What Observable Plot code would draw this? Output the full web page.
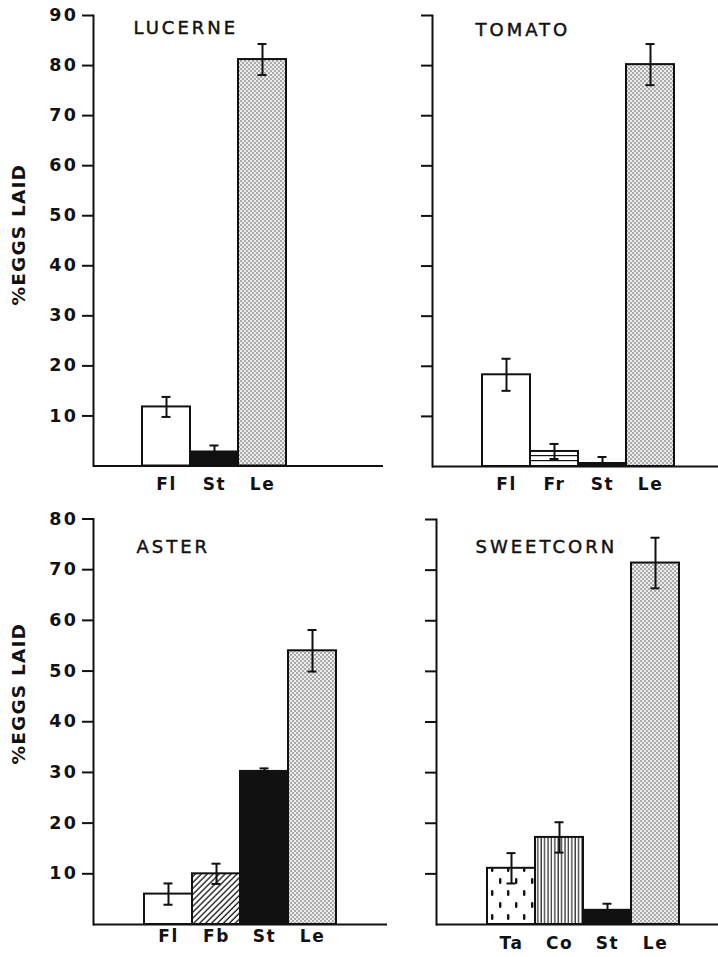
<!DOCTYPE html>
<html>
<head>
<meta charset="utf-8">
<script src="https://cdn.jsdelivr.net/npm/d3@7"></script>
<script src="https://cdn.jsdelivr.net/npm/@observablehq/plot@0.6"></script>
<style>
  html, body { margin: 0; padding: 0; background: #fff; }
  #figure { position: relative; width: 718px; height: 957px; overflow: hidden; background: #fff; }
  #figure .panel { position: absolute; }
  #figure .panel svg { display: block; overflow: visible; }
</style>
</head>
<body>
<!-- fill patterns shared by all four panels -->
<svg width="0" height="0" style="position:absolute">
  <defs>
    <pattern id="stipple" patternUnits="userSpaceOnUse" width="4" height="4">
      <rect width="4" height="4" fill="#ececec"/>
      <circle cx="1" cy="1" r="0.8" fill="#555"/>
      <circle cx="3" cy="3" r="0.8" fill="#555"/>
    </pattern>
    <pattern id="hlines" patternUnits="userSpaceOnUse" width="6" height="5">
      <rect width="6" height="5" fill="#fff"/>
      <line x1="0" x2="6" y1="0.5" y2="0.5" stroke="#111" stroke-width="1.4"/>
    </pattern>
    <pattern id="hatch" patternUnits="userSpaceOnUse" width="4.2" height="4.2" patternTransform="rotate(45)">
      <rect width="4.2" height="4.2" fill="#fff"/>
      <line x1="1" x2="1" y1="0" y2="4.2" stroke="#111" stroke-width="1.3"/>
    </pattern>
    <pattern id="vlines" patternUnits="userSpaceOnUse" width="3.4" height="4">
      <rect width="3.4" height="4" fill="#fff"/>
      <line x1="1" x2="1" y1="0" y2="4" stroke="#111" stroke-width="1.1"/>
    </pattern>
    <pattern id="dashes" patternUnits="userSpaceOnUse" width="16" height="24">
      <rect width="16" height="24" fill="#fff"/>
      <rect x="3" y="2" width="2.4" height="6" rx="1.2" fill="#111"/>
      <rect x="11" y="14" width="2.4" height="6" rx="1.2" fill="#111"/>
    </pattern>
  </defs>
</svg>

<div id="figure"></div>

<script>
// Percentage of eggs laid on each plant part, mean and standard error.
const lucerneParts = ["Fl", "St", "Le"];
const lucerneMeans = [11.8, 2.8, 81.2];
const lucerneErrors = [2.0, 1.3, 3.1];

const tomatoParts = ["Fl", "Fr", "St", "Le"];
const tomatoMeans = [18.3, 3.0, 0.6, 80.2];
const tomatoErrors = [3.2, 1.5, 1.3, 4.1];

const asterParts = ["Fl", "Fb", "St", "Le"];
const asterMeans = [6.0, 10.0, 30.2, 54.0];
const asterErrors = [2.1, 2.0, 0.6, 4.1];

const sweetcornParts = ["Ta", "Co", "St", "Le"];
const sweetcornMeans = [11.1, 17.2, 2.8, 71.4];
const sweetcornErrors = [3.0, 3.0, 1.3, 5.0];

const topTicks = [10, 20, 30, 40, 50, 60, 70, 80, 90];
const bottomTicks = [10, 20, 30, 40, 50, 60, 70, 80];
const yLabelText = "%EGGS LAID";

// How each plant part is shaded
const partFill = {
  Fl: "#ffffff",
  St: "#111111",
  Le: "url(#stipple)",
  Fr: "url(#hlines)",
  Fb: "url(#hatch)",
  Ta: "url(#dashes)",
  Co: "url(#vlines)"
};

const ink = "#111";
const font = "DejaVu Sans, Liberation Sans, sans-serif";

function panel(spec) {
  const rows = spec.parts.map((part, i) => ({part, mean: spec.means[i], err: spec.errors[i]}));
  const lowered = rows.filter(d => d.mean - d.err > 0.5);
  const capInset = 19.5;
  const chart = Plot.plot({
    width: spec.width,
    height: spec.height,
    marginLeft: spec.ml,
    marginRight: spec.mr,
    marginTop: spec.mt,
    marginBottom: spec.mb,
    style: {background: "transparent", fontFamily: font, color: ink, overflow: "visible"},
    x: {type: "band", domain: spec.parts, range: spec.xRange, padding: 0},
    y: {domain: [0, spec.yMax]},
    color: {type: "identity"},
    marks: [
      Plot.barY(rows, {x: "part", y: "mean", fill: d => partFill[d.part], stroke: ink, strokeWidth: 2}),
      Plot.ruleX(rows, {x: "part", y1: d => Math.max(0, d.mean - d.err), y2: d => d.mean + d.err, stroke: ink, strokeWidth: 2}),
      Plot.tickY(rows, {x: "part", y: d => d.mean + d.err, insetLeft: capInset, insetRight: capInset, stroke: ink, strokeWidth: 2}),
      Plot.tickY(lowered, {x: "part", y: d => d.mean - d.err, insetLeft: capInset, insetRight: capInset, stroke: ink, strokeWidth: 2}),
      Plot.ruleY([0], {stroke: ink, strokeWidth: 2}),
      Plot.frame({anchor: "left", stroke: ink, strokeWidth: 2}),
      Plot.axisY({
        ticks: spec.ticks, tickSize: 11, tickPadding: 4, stroke: ink, strokeWidth: 2,
        tickFormat: spec.tickLabels ? (d => String(d)) : (() => ""),
        fontSize: 17.5, fontWeight: "bold", fill: ink, label: null
      }),
      Plot.axisX({tickSize: 0, tickPadding: spec.xPad, fontSize: 17, fontWeight: "bold", fill: ink, label: null}),
      Plot.text([spec.title], {
        frameAnchor: "top-left", textAnchor: "start", lineAnchor: "middle",
        dx: spec.titleDx, dy: spec.titleDy, fontSize: 18, fill: ink, stroke: ink, strokeWidth: 0.45
      }),
      spec.yLabel ? Plot.text([yLabelText], {
        frameAnchor: "left", textAnchor: "middle", rotate: -90, lineAnchor: "middle",
        dx: -74, dy: spec.yLabelDy, fontSize: 18.5, fontWeight: "bold", fill: ink
      }) : null
    ]
  });
  const svg = d3.select(chart);
  svg.selectAll('g[aria-label="y-axis tick label"] text').style("letter-spacing", "2.5px");
  svg.selectAll('g[aria-label="x-axis tick label"] text').style("letter-spacing", "1.5px");
  svg.selectAll('g[aria-label="text"] text').style("letter-spacing", function() {
    return this.textContent === yLabelText ? "1.2px" : "3px";
  });
  const holder = document.createElement("div");
  holder.className = "panel";
  holder.style.left = spec.left + "px";
  holder.style.top = spec.top + "px";
  holder.style.width = spec.width + "px";
  holder.appendChild(chart);
  document.getElementById("figure").appendChild(holder);
}

panel({
  title: "LUCERNE", parts: lucerneParts, means: lucerneMeans, errors: lucerneErrors,
  left: 0, top: 0, width: 400, height: 500, ml: 93, mr: 17, mt: 15, mb: 34.5,
  xRange: [142, 286], yMax: 90, ticks: topTicks, tickLabels: true, xPad: 11.5,
  titleDx: 40, titleDy: 13, yLabel: true, yLabelDy: -6
});
panel({
  title: "TOMATO", parts: tomatoParts, means: tomatoMeans, errors: tomatoErrors,
  left: 360, top: 0, width: 358, height: 500, ml: 72, mr: 0, mt: 15, mb: 34,
  xRange: [121, 314], yMax: 90, ticks: topTicks, tickLabels: false, xPad: 11,
  titleDx: 43, titleDy: 15, yLabel: false
});
panel({
  title: "ASTER", parts: asterParts, means: asterMeans, errors: asterErrors,
  left: 0, top: 480, width: 400, height: 477, ml: 93, mr: 13, mt: 38.5, mb: 33,
  xRange: [144, 336], yMax: 80, ticks: bottomTicks, tickLabels: true, xPad: 5,
  titleDx: 43, titleDy: 28.5, yLabel: true, yLabelDy: -28
});
panel({
  title: "SWEETCORN", parts: sweetcornParts, means: sweetcornMeans, errors: sweetcornErrors,
  left: 360, top: 480, width: 358, height: 477, ml: 76, mr: 0, mt: 39, mb: 33,
  xRange: [126, 319], yMax: 80, ticks: bottomTicks, tickLabels: false, xPad: 12,
  titleDx: 39, titleDy: 28, yLabel: false
});
</script>
</body>
</html>
